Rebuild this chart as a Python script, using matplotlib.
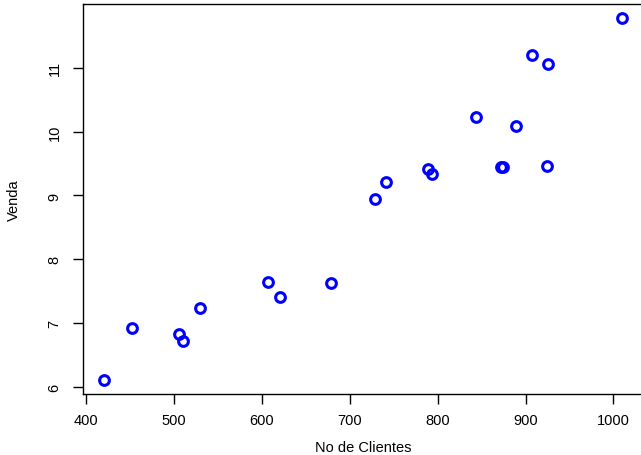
import matplotlib
matplotlib.use('Agg')
import matplotlib.pyplot as plt

plt.rcParams['font.family'] = ['Liberation Sans', 'DejaVu Sans']

clientes = [420, 452, 506, 510, 529, 607, 621, 679, 729, 741,
            789, 794, 844, 872, 874, 889, 907, 924, 926, 1010]
venda = [6.12, 6.92, 6.84, 6.73, 7.24, 7.64, 7.41, 7.63, 8.95, 9.21,
         9.42, 9.33, 10.23, 9.44, 9.45, 10.08, 11.20, 9.46, 11.05, 11.77]

xticks = [400, 500, 600, 700, 800, 900, 1000]
yticks = [6, 7, 8, 9, 10, 11]

fig = plt.figure(figsize=(6.41, 4.56), dpi=100)
ax = fig.add_axes([83/641, 61/456, 560/641, 390/456])

ax.plot(clientes, venda, 'o', mfc='none', mec='#0000ff', mew=2.2, ms=7)

# R-style 4% padding
xr = max(clientes) - min(clientes)
yr = max(venda) - min(venda)
ax.set_xlim(min(clientes) - 0.04*xr, max(clientes) + 0.04*xr)
ax.set_ylim(min(venda) - 0.04*yr, max(venda) + 0.04*yr)

ax.set_xticks(xticks)
ax.set_yticks(yticks)
ax.set_yticklabels([str(t) for t in yticks], rotation=90, va='center')
ax.tick_params(direction='out', length=7, width=1, labelsize=10.5, pad=6.5)
ax.tick_params(axis='y', pad=8.5)
for s in ax.spines.values():
    s.set_linewidth(1)

ax.set_xlabel('No de Clientes', fontsize=10.5)
ax.set_ylabel('Venda', fontsize=10.5)
ax.xaxis.set_label_coords(0.5, -0.136)
ax.xaxis.label.set_va('center')
ax.yaxis.set_label_coords(-0.123, 0.5)
ax.yaxis.label.set_va('center')

fig.savefig('out.png', dpi=100)
